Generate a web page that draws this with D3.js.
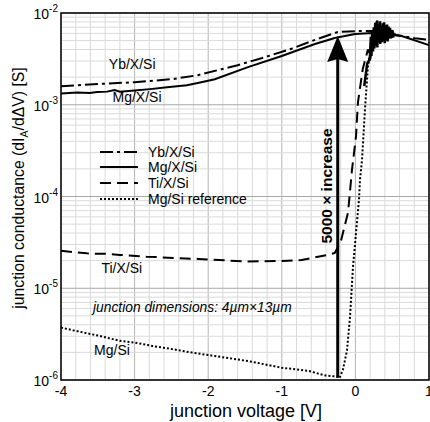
<!DOCTYPE html>
<html>
<head>
<meta charset="utf-8">
<script src="https://cdn.jsdelivr.net/npm/d3@7"></script>
<style>
  body { margin: 0; background: #fff; }
  svg { display: block; font-family: "Liberation Sans", Arial, sans-serif; }
</style>
</head>
<body>
<div id="chart"></div>
<script>
// Yb/X/Si (dash-dot)
const ybV = [-4, -3.5, -3, -2.49, -2.14, -1.81, -1.6, -1.23, -0.86, -0.55, -0.24, 0.035, 0.27, 0.63, 0.81, 1.0];
const ybG = [1.59e-3, 1.68e-3, 1.76e-3, 1.9e-3, 2.1e-3, 2.45e-3, 2.7e-3, 3.3e-3, 4.1e-3, 5.1e-3, 6.2e-3, 6.35e-3, 6.35e-3, 5.6e-3, 5.3e-3, 5.1e-3];

// Mg/X/Si (solid)
const mgV = [-4, -3.78, -3.61, -3.51, -3.375, -3.27, -3.2, -3.0, -2.79, -2.56, -2.29, -2.11, -1.91, -1.46, -1.0, -0.55, -0.28, -0.005, 0.23, 0.63, 1.0];
const mgG = [1.33e-3, 1.36e-3, 1.34e-3, 1.38e-3, 1.39e-3, 1.45e-3, 1.39e-3, 1.43e-3, 1.48e-3, 1.55e-3, 1.63e-3, 1.75e-3, 1.9e-3, 2.57e-3, 3.4e-3, 4.6e-3, 5.35e-3, 5.9e-3, 6.05e-3, 5.6e-3, 4.47e-3];

// Ti/X/Si (dashed)
const tiV = [-4, -3.8, -3.65, -3.48, -3.35, -3.2, -3.03, -2.84, -2.66, -2.4, -2.13, -1.95, -1.5, -1.0, -0.73, -0.55, -0.37, -0.28, -0.2, -0.1, -0.046, 0.008, 0.035, 0.1, 0.17];
const tiG = [2.57e-5, 2.46e-5, 2.4e-5, 2.37e-5, 2.37e-5, 2.31e-5, 2.26e-5, 2.21e-5, 2.18e-5, 2.12e-5, 2.09e-5, 2.05e-5, 1.96e-5, 1.98e-5, 2.03e-5, 2.17e-5, 2.31e-5, 2.43e-5, 3.2e-5, 6.7e-5, 1.97e-4, 4.5e-4, 1.07e-3, 2.45e-3, 4.0e-3];

// Mg/Si reference (dotted)
const refV = [-4, -3.8, -3.48, -3.2, -3.0, -2.76, -2.49, -2.22, -1.92, -1.46, -1.0, -0.64, -0.41, -0.25, -0.216, -0.17, -0.114, -0.073, -0.033, 0.049, 0.063, 0.09, 0.13, 0.17, 0.2];
const refG = [3.73e-6, 3.43e-6, 3.03e-6, 2.67e-6, 2.56e-6, 2.35e-6, 2.17e-6, 1.99e-6, 1.83e-6, 1.61e-6, 1.36e-6, 1.26e-6, 1.12e-6, 1.09e-6, 1.05e-6, 1.29e-6, 2.1e-6, 4.9e-6, 1.7e-5, 9.3e-5, 1.55e-4, 2.5e-4, 8.9e-4, 2.6e-3, 3.6e-3];

// noisy region above 0 V (measured traces)
const noiseAV = [0.17, 0.2, 0.21, 0.22, 0.23, 0.24, 0.25, 0.26, 0.27, 0.28, 0.29, 0.3, 0.31, 0.32, 0.33, 0.34, 0.35, 0.36, 0.37, 0.38, 0.39, 0.4, 0.41, 0.42, 0.43, 0.44, 0.45, 0.46, 0.47, 0.48, 0.5, 0.52, 0.55];
const noiseAG = [4.0e-3, 3.6e-3, 5.5e-3, 4.2e-3, 6.5e-3, 4.5e-3, 7.0e-3, 5.0e-3, 7.8e-3, 4.6e-3, 8.0e-3, 5.2e-3, 7.2e-3, 4.8e-3, 7.6e-3, 5.4e-3, 6.8e-3, 4.9e-3, 7.4e-3, 5.3e-3, 7.9e-3, 5.0e-3, 6.6e-3, 5.6e-3, 7.5e-3, 5.1e-3, 7.1e-3, 5.5e-3, 6.9e-3, 5.3e-3, 6.5e-3, 5.8e-3, 5.8e-3];
const noiseBV = [0.12, 0.16, 0.2, 0.215, 0.225, 0.235, 0.245, 0.255, 0.265, 0.275, 0.285, 0.295, 0.305, 0.315, 0.325, 0.335, 0.345, 0.355, 0.365, 0.375, 0.385, 0.395, 0.405, 0.415, 0.425, 0.435, 0.445, 0.46, 0.49];
const noiseBG = [1.6e-3, 2.8e-3, 3.2e-3, 4.6e-3, 3.9e-3, 6.0e-3, 4.3e-3, 6.8e-3, 4.7e-3, 7.4e-3, 5.0e-3, 8.3e-3, 5.4e-3, 7.0e-3, 5.1e-3, 8.1e-3, 5.6e-3, 7.2e-3, 5.2e-3, 7.7e-3, 5.5e-3, 6.9e-3, 5.0e-3, 7.3e-3, 5.4e-3, 6.6e-3, 5.6e-3, 6.2e-3, 5.7e-3];
const noiseCV = [0.19, 0.205, 0.218, 0.228, 0.238, 0.248, 0.258, 0.268, 0.278, 0.288, 0.298, 0.308, 0.318, 0.328, 0.338, 0.348, 0.358, 0.368, 0.378, 0.388, 0.398, 0.408, 0.418, 0.428, 0.438, 0.448, 0.458, 0.47, 0.5, 0.53];
const noiseCG = [3.0e-3, 3.8e-3, 3.4e-3, 5.2e-3, 3.8e-3, 5.8e-3, 4.1e-3, 6.2e-3, 4.4e-3, 6.9e-3, 4.2e-3, 7.6e-3, 4.9e-3, 6.3e-3, 4.6e-3, 7.0e-3, 4.8e-3, 6.4e-3, 5.0e-3, 7.2e-3, 4.7e-3, 6.8e-3, 5.2e-3, 6.5e-3, 4.9e-3, 6.3e-3, 5.3e-3, 6.0e-3, 5.5e-3, 5.6e-3];

// arrow: 5000x increase
const arrowV = -0.24;
const arrowFrom = 1.06e-6;
const arrowTo = 5.6e-3;

const xTicks = [-4, -3, -2, -1, 0, 1];
const yTicks = [1e-6, 1e-5, 1e-4, 1e-3, 1e-2];
const yTickExp = ["-6", "-5", "-4", "-3", "-2"];

const legendNames = ["Yb/X/Si", "Mg/X/Si", "Ti/X/Si", "Mg/Si reference"];

const width = 430;
const height = 422;
const margin = { top: 13, right: 1, bottom: 42, left: 61 };

const x = d3.scaleLinear().domain([-4, 1]).range([margin.left, width - margin.right]);
const y = d3.scaleLog().domain([1e-6, 1e-2]).range([height - margin.bottom, margin.top]);

const svg = d3.select("#chart")
  .append("svg")
  .attr("width", width)
  .attr("height", height);

// grid
const xGrid = d3.range(0, 26).map(i => -4 + i * 0.2);
const grid = svg.append("g");
grid.selectAll(".vg")
  .data(xGrid)
  .enter()
  .append("line")
  .attr("x1", d => x(d)).attr("x2", d => x(d))
  .attr("y1", y(1e-6)).attr("y2", y(1e-2))
  .attr("stroke", d => Math.abs(d - Math.round(d)) < 1e-6 ? "#b4b4b4" : "#dadada")
  .attr("stroke-width", 1);

grid.selectAll(".hg")
  .data(y.ticks())
  .enter()
  .append("line")
  .attr("x1", x(-4)).attr("x2", x(1))
  .attr("y1", d => y(d)).attr("y2", d => y(d))
  .attr("stroke", d => Math.abs(Math.log10(d) - Math.round(Math.log10(d))) < 1e-6 ? "#a8a8a8" : "#dadada")
  .attr("stroke-width", 1);

// curves
const line = d3.line().x(d => x(d[0])).y(d => y(d[1]));
const series = [
  { v: ybV, g: ybG, dash: "13,4,3,4", w: 2 },
  { v: mgV, g: mgG, dash: null, w: 2 },
  { v: tiV, g: tiG, dash: "11,6", w: 2 },
  { v: refV, g: refG, dash: "2,2", w: 2 }
];

series.forEach(s => {
  svg.append("path")
    .datum(d3.zip(s.v, s.g))
    .attr("d", line)
    .attr("fill", "none")
    .attr("stroke", "#000")
    .attr("stroke-width", s.w)
    .attr("stroke-dasharray", s.dash);
});

[[noiseAV, noiseAG], [noiseBV, noiseBG], [noiseCV, noiseCG]].forEach(([v, g]) => {
  svg.append("path")
    .datum(d3.zip(v, g))
    .attr("d", line)
    .attr("fill", "none")
    .attr("stroke", "#000")
    .attr("stroke-width", 2.5);
});

// frame
svg.append("rect")
  .attr("x", x(-4)).attr("y", y(1e-2))
  .attr("width", x(1) - x(-4)).attr("height", y(1e-6) - y(1e-2))
  .attr("fill", "none")
  .attr("stroke", "#000")
  .attr("stroke-width", 1.5);

// arrow
const ax = x(arrowV);
svg.append("line")
  .attr("x1", ax).attr("x2", ax)
  .attr("y1", y(arrowFrom)).attr("y2", y(arrowTo) + 20)
  .attr("stroke", "#000")
  .attr("stroke-width", 3);
const tip = y(arrowTo);
svg.append("path")
  .attr("d", `M${ax},${tip} L${ax - 10.5},${tip + 26} L${ax},${tip + 23} L${ax + 10.5},${tip + 26} Z`)
  .attr("fill", "#000");

svg.append("text")
  .attr("transform", `translate(${ax - 5.5},186) rotate(-90)`)
  .attr("text-anchor", "middle")
  .attr("font-size", 15.5)
  .attr("font-weight", "bold")
  .text("5000 × increase");

// x tick labels
svg.selectAll(".xt")
  .data(xTicks)
  .enter()
  .append("text")
  .attr("x", d => x(d))
  .attr("y", 396)
  .attr("text-anchor", "middle")
  .attr("font-size", 14)
  .text(d => d);

// y tick labels
const yt = svg.selectAll(".yt")
  .data(yTicks)
  .enter()
  .append("text")
  .attr("x", 58)
  .attr("y", d => y(d) + 6)
  .attr("text-anchor", "end")
  .attr("font-size", 14);
yt.append("tspan").text("10");
yt.append("tspan")
  .attr("dy", -7)
  .attr("font-size", 10)
  .text((d, i) => yTickExp[i]);

// axis titles
svg.append("text")
  .attr("x", 246)
  .attr("y", 417)
  .attr("text-anchor", "middle")
  .attr("font-size", 18)
  .text("junction voltage [V]");

const yl = svg.append("text")
  .attr("transform", "translate(24,188) rotate(-90)")
  .attr("text-anchor", "middle")
  .attr("font-size", 15.8);
yl.append("tspan").text("junction conductance (dI");
yl.append("tspan").attr("dy", 4).attr("font-size", 10.5).text("A");
yl.append("tspan").attr("dy", -4).text("/dΔV) [S]");

// legend
const legendY = [152, 167, 183, 199];
const legend = svg.append("g");
series.forEach((s, i) => {
  legend.append("line")
    .attr("x1", 100).attr("x2", 138)
    .attr("y1", legendY[i]).attr("y2", legendY[i])
    .attr("stroke", "#000")
    .attr("stroke-width", s.w)
    .attr("stroke-dasharray", s.dash);
  legend.append("text")
    .attr("x", 148)
    .attr("y", legendY[i] + 5)
    .attr("font-size", 14)
    .text(legendNames[i]);
});

// curve labels
const labels = [
  { t: "Yb/X/Si", x: -3.35, y: 2.45e-3 },
  { t: "Mg/X/Si", x: -3.3, y: 1.08e-3 },
  { t: "Ti/X/Si", x: -3.45, y: 1.45e-5 },
  { t: "Mg/Si", x: -3.55, y: 1.85e-6 }
];
svg.selectAll(".cl")
  .data(labels)
  .enter()
  .append("text")
  .attr("x", d => x(d.x))
  .attr("y", d => y(d.y))
  .attr("font-size", 14)
  .text(d => d.t);

svg.append("text")
  .attr("x", 93)
  .attr("y", 312)
  .attr("font-size", 13.8)
  .attr("font-style", "italic")
  .text("junction dimensions: 4µm×13µm");
</script>
</body>
</html>
